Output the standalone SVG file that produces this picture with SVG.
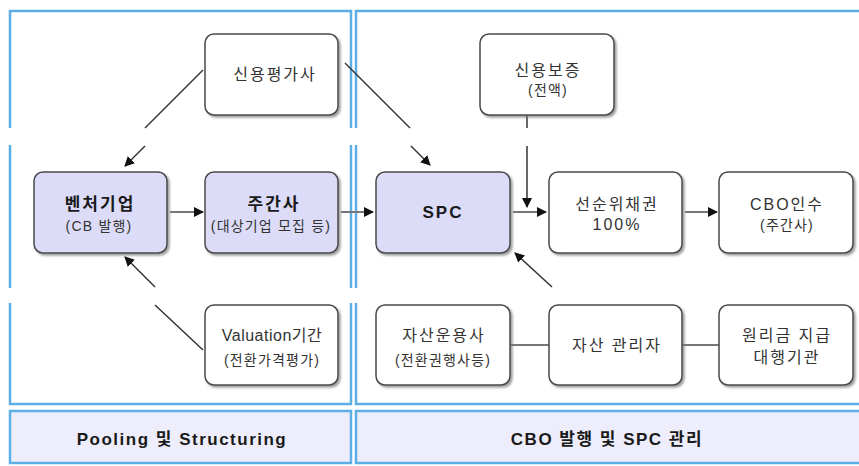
<svg xmlns="http://www.w3.org/2000/svg" width="859" height="466" viewBox="0 0 859 466">
  <defs>
    <marker id="arrow" viewBox="0 0 10 10" refX="9" refY="5" markerWidth="10" markerHeight="10" markerUnits="userSpaceOnUse" orient="auto">
      <path d="M0,0 L10,5 L0,10 Z" fill="#111"/>
    </marker>
    <filter id="shadow" x="-10%" y="-10%" width="125%" height="130%">
      <feDropShadow dx="2" dy="2" stdDeviation="1.2" flood-color="#777" flood-opacity="0.7"/>
    </filter>
  </defs>
  <style>
    .panel { fill: none; stroke: #5eaee6; stroke-width: 2.5; }
    .band { fill: #ededfc; stroke: #5eaee6; stroke-width: 2.5; }
    .box { fill: #ffffff; stroke: #4a4a4a; stroke-width: 1.5; filter: url(#shadow); }
    .hbox { fill: #dcdcf8; stroke: #4a4a4a; stroke-width: 1.5; filter: url(#shadow); }
    .t { font-family: "Liberation Sans", "Noto Sans CJK KR", sans-serif; font-size: 16px; fill: #333; text-anchor: middle; letter-spacing: 2px; }
    .s { font-size: 14px; letter-spacing: 1.2px; }
    .b { font-weight: bold; font-size: 17px; fill: #1a1a1a; letter-spacing: 2px; }
    .lbl { font-family: "Liberation Sans", "Noto Sans CJK KR", sans-serif; font-weight: bold; font-size: 17px; fill: #1a1a1a; text-anchor: middle; letter-spacing: 1.5px; }
    .c { fill: none; stroke: #333; stroke-width: 1.5; }
    .h { fill: none; stroke: #777; stroke-width: 2; }
  </style>

  <!-- section frames (vertical sides are interrupted by two blank bands) -->
  <g id="frames">
    <path class="panel" d="M10,128 V11 H351 V128 M10,145 V288 M351,145 V288 M10,303 V404 H351 V303"/>
    <path class="panel" d="M356,128 V11 H862 M356,145 V288 M356,303 V404 H862"/>
  </g>

  <!-- section captions -->
  <g id="band-left">
    <rect class="band" x="10" y="411" width="341" height="52"/>
    <text class="lbl" x="182" y="445">Pooling 및 Structuring</text>
  </g>
  <g id="band-right">
    <rect class="band" x="356" y="411" width="506" height="52"/>
    <text class="lbl" x="607" y="445">CBO 발행 및 SPC 관리</text>
  </g>

  <!-- connectors -->
  <g id="connectors">
    <path class="c" d="M203,70 L145,128"/>
    <path class="c" d="M145,146 L125,166" marker-end="url(#arrow)"/>
    <path class="c" d="M345,63 L410,128"/>
    <path class="c" d="M411,146 L430,165" marker-end="url(#arrow)"/>
    <path class="c" d="M527,115 V128"/>
    <path class="c" d="M527,146 V207" marker-end="url(#arrow)"/>
    <path class="c" d="M203,350 L155,305"/>
    <path class="c" d="M155,287 L125,257" marker-end="url(#arrow)"/>
    <path class="c" d="M552,287 L515,253" marker-end="url(#arrow)"/>
    <path class="h" d="M170,212 H203" marker-end="url(#arrow)"/>
    <path class="h" d="M341,212 H373" marker-end="url(#arrow)"/>
    <path class="h" d="M513,212 H546" marker-end="url(#arrow)"/>
    <path class="h" d="M685,212 H717" marker-end="url(#arrow)"/>
    <path class="h" d="M510,345 H549"/>
    <path class="h" d="M682,345 H719"/>
  </g>

  <!-- nodes -->
  <g id="credit-rating">
    <rect class="box" x="205" y="34" width="133" height="81" rx="9"/>
    <text class="t" x="275" y="80">신용평가사</text>
  </g>
  <g id="venture">
    <rect class="hbox" x="34" y="172" width="133" height="81" rx="9"/>
    <text class="t b" x="100" y="210">벤처기업</text>
    <text class="t s" x="99" y="231">(CB 발행)</text>
  </g>
  <g id="underwriter">
    <rect class="hbox" x="205" y="172" width="133" height="81" rx="9"/>
    <text class="t b" x="274" y="210">주간사</text>
    <text class="t s" x="271" y="231">(대상기업 모집 등)</text>
  </g>
  <g id="spc">
    <rect class="hbox" x="376" y="172" width="134" height="81" rx="9"/>
    <text class="t b" x="443" y="218">SPC</text>
  </g>
  <g id="guarantee">
    <rect class="box" x="480" y="34" width="134" height="81" rx="9"/>
    <text class="t" x="548" y="76">신용보증</text>
    <text class="t s" x="548" y="95">(전액)</text>
  </g>
  <g id="senior">
    <rect class="box" x="549" y="172" width="133" height="81" rx="9"/>
    <text class="t" x="617" y="210">선순위채권</text>
    <text class="t" x="617" y="230">100%</text>
  </g>
  <g id="cbo">
    <rect class="box" x="719" y="172" width="134" height="81" rx="9"/>
    <text class="t" x="787" y="210">CBO인수</text>
    <text class="t s" x="787" y="230">(주간사)</text>
  </g>
  <g id="valuation">
    <rect class="box" x="205" y="305" width="133" height="80" rx="9"/>
    <text class="t" x="272" y="341" style="letter-spacing:0.5px">Valuation기간</text>
    <text class="t s" x="272" y="365">(전환가격평가)</text>
  </g>
  <g id="asset-operator">
    <rect class="box" x="376" y="305" width="134" height="80" rx="9"/>
    <text class="t" x="444" y="341">자산운용사</text>
    <text class="t s" x="443" y="365">(전환권행사등)</text>
  </g>
  <g id="asset-manager">
    <rect class="box" x="549" y="305" width="133" height="80" rx="9"/>
    <text class="t" x="617" y="351">자산 관리자</text>
  </g>
  <g id="paying-agent">
    <rect class="box" x="719" y="305" width="134" height="80" rx="9"/>
    <text class="t" x="787" y="341">원리금 지급</text>
    <text class="t" x="787" y="363">대행기관</text>
  </g>
</svg>
